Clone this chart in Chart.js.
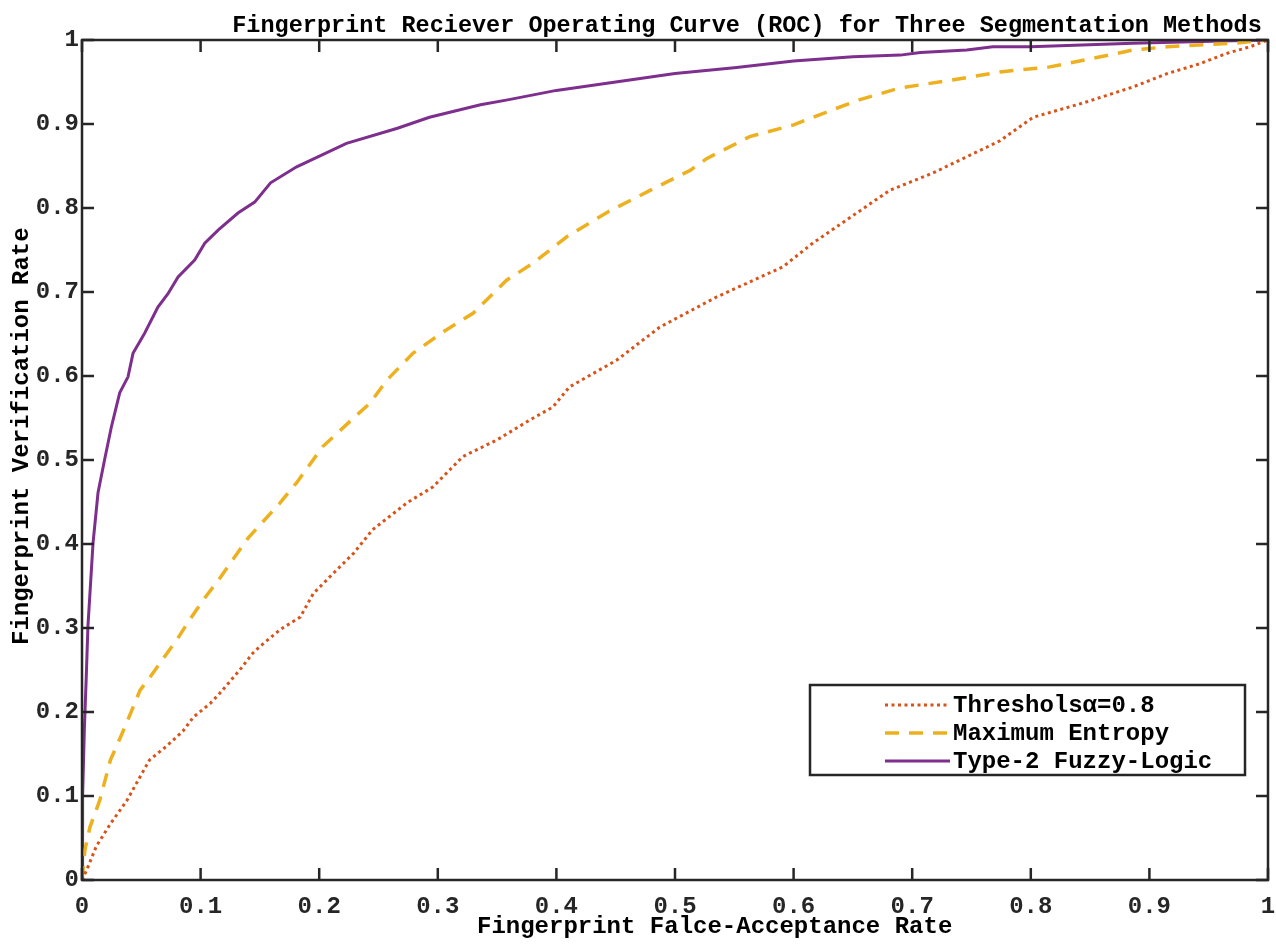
<!DOCTYPE html>
<html>
<head>
<meta charset="utf-8">
<title>Fingerprint ROC</title>
<script src="https://cdn.jsdelivr.net/npm/chart.js@4.4.0/dist/chart.umd.min.js"></script>
<style>
  html, body { margin: 0; padding: 0; background: #fff; }
  #wrap { width: 1276px; height: 945px; }
</style>
</head>
<body>
<div id="wrap"><canvas id="roc" width="1276" height="945"></canvas></div>
<script>
// === Data ===
const tickValues = [0, 0.1, 0.2, 0.3, 0.4, 0.5, 0.6, 0.7, 0.8, 0.9, 1];
const tickLabels = ["0", "0.1", "0.2", "0.3", "0.4", "0.5", "0.6", "0.7", "0.8", "0.9", "1"];

const seriesNames = ["Thresholsα=0.8", "Maximum Entropy", "Type-2 Fuzzy-Logic"];

// Threshold (dotted)
const thrFar = [0, 0.004, 0.012, 0.024, 0.038, 0.049, 0.057, 0.071, 0.085, 0.094, 0.108, 0.116, 0.133, 0.144, 0.15, 0.167, 0.184, 0.195, 0.209, 0.229, 0.245, 0.274, 0.296, 0.321, 0.35, 0.378, 0.397, 0.411, 0.451, 0.487, 0.535, 0.591, 0.616, 0.648, 0.681, 0.718, 0.746, 0.774, 0.802, 0.844, 0.886, 0.915, 0.943, 0.965, 0.985, 1];
const thrTvr = [0, 0.012, 0.04, 0.067, 0.095, 0.123, 0.143, 0.159, 0.177, 0.194, 0.21, 0.222, 0.25, 0.27, 0.278, 0.298, 0.313, 0.341, 0.361, 0.389, 0.417, 0.449, 0.468, 0.504, 0.524, 0.548, 0.563, 0.587, 0.619, 0.658, 0.694, 0.73, 0.758, 0.789, 0.821, 0.842, 0.861, 0.88, 0.908, 0.925, 0.944, 0.96, 0.972, 0.984, 0.992, 1];

// Maximum Entropy (dashed)
const entFar = [0, 0.0025, 0.0067, 0.015, 0.024, 0.034, 0.042, 0.049, 0.0556, 0.0697, 0.08, 0.089, 0.102, 0.115, 0.14, 0.167, 0.181, 0.203, 0.229, 0.243, 0.257, 0.279, 0.304, 0.33, 0.358, 0.38, 0.409, 0.443, 0.479, 0.513, 0.527, 0.563, 0.6, 0.633, 0.656, 0.69, 0.732, 0.774, 0.816, 0.852, 0.886, 0.915, 0.97, 1];
const entTvr = [0, 0.036, 0.063, 0.095, 0.143, 0.175, 0.202, 0.226, 0.238, 0.266, 0.286, 0.306, 0.333, 0.357, 0.407, 0.449, 0.473, 0.516, 0.55, 0.568, 0.595, 0.627, 0.652, 0.675, 0.714, 0.734, 0.766, 0.795, 0.821, 0.845, 0.859, 0.885, 0.899, 0.917, 0.929, 0.943, 0.952, 0.962, 0.968, 0.978, 0.988, 0.992, 0.996, 1];

// Type-2 Fuzzy-Logic (solid)
const fuzFar = [0, 0.0005, 0.002, 0.0036, 0.005, 0.0093, 0.0135, 0.019, 0.0247, 0.0318, 0.0388, 0.043, 0.0528, 0.064, 0.0725, 0.081, 0.095, 0.1035, 0.115, 0.1315, 0.1456, 0.159, 0.181, 0.223, 0.266, 0.293, 0.336, 0.36, 0.4, 0.45, 0.5, 0.55, 0.6, 0.65, 0.69, 0.707, 0.746, 0.768, 0.8, 0.886, 0.97, 1];
const fuzTvr = [0, 0.1, 0.18, 0.242, 0.302, 0.401, 0.461, 0.5, 0.539, 0.58, 0.599, 0.627, 0.651, 0.682, 0.698, 0.718, 0.738, 0.758, 0.774, 0.794, 0.807, 0.83, 0.849, 0.877, 0.895, 0.908, 0.923, 0.929, 0.94, 0.95, 0.96, 0.967, 0.975, 0.98, 0.982, 0.985, 0.988, 0.992, 0.992, 0.996, 0.999, 1];

const toPoints = (xs, ys) => xs.map((x, i) => ({ x, y: ys[i] }));

const FONT = "'Liberation Mono', 'DejaVu Sans Mono', monospace";
const AXIS_COLOR = "#262626";

// === Box, inward ticks, titles and legend (MATLAB look) ===
const matlabFrame = {
  id: "matlabFrame",
  afterDatasetsDraw(chart) {
    const { ctx, chartArea: a, scales } = chart;
    ctx.save();
    ctx.strokeStyle = AXIS_COLOR;
    ctx.lineWidth = 2.5;
    ctx.strokeRect(a.left, a.top, a.right - a.left, a.bottom - a.top);

    const len = 12;
    ctx.beginPath();
    tickValues.forEach((v) => {
      const px = scales.x.getPixelForValue(v);
      ctx.moveTo(px, a.bottom); ctx.lineTo(px, a.bottom - len);
      ctx.moveTo(px, a.top); ctx.lineTo(px, a.top + len);
      const py = scales.y.getPixelForValue(v);
      ctx.moveTo(a.left, py); ctx.lineTo(a.left + len, py);
      ctx.moveTo(a.right, py); ctx.lineTo(a.right - len, py);
    });
    ctx.stroke();
    ctx.restore();
  },
  afterDraw(chart) {
    const { ctx } = chart;
    ctx.save();
    ctx.fillStyle = "#000";
    ctx.textBaseline = "alphabetic";

    // title
    ctx.font = `bold 23.5px ${FONT}`;
    ctx.textAlign = "center";
    ctx.fillText("Fingerprint Reciever Operating Curve (ROC) for Three Segmentation Methods", 747, 32);

    // x label
    ctx.font = `bold 24px ${FONT}`;
    ctx.textAlign = "left";
    ctx.fillText("Fingerprint Falce-Acceptance Rate", 477, 933);

    // y label
    ctx.save();
    ctx.translate(28, 645);
    ctx.rotate(-Math.PI / 2);
    ctx.fillText("Fingerprint Verification Rate", 0, 0);
    ctx.restore();

    // legend
    const box = { x: 810, y: 685, w: 435, h: 90 };
    ctx.fillStyle = "#fff";
    ctx.fillRect(box.x, box.y, box.w, box.h);
    ctx.strokeStyle = AXIS_COLOR;
    ctx.lineWidth = 2.5;
    ctx.strokeRect(box.x, box.y, box.w, box.h);

    chart.data.datasets.forEach((ds, i) => {
      const rowY = box.y + 20 + i * 28;
      ctx.beginPath();
      ctx.strokeStyle = ds.borderColor;
      ctx.lineWidth = ds.borderWidth;
      ctx.setLineDash(ds.borderDash || []);
      ctx.moveTo(885, rowY);
      ctx.lineTo(950, rowY);
      ctx.stroke();
      ctx.setLineDash([]);
      ctx.fillStyle = "#000";
      ctx.textBaseline = "middle";
      ctx.fillText(ds.label, 953, rowY + 1);
    });
    ctx.restore();
  },
};

const ctx = document.getElementById("roc").getContext("2d");

new Chart(ctx, {
  type: "line",
  data: {
    datasets: [
      {
        label: seriesNames[0],
        data: toPoints(thrFar, thrTvr),
        borderColor: "#D95319",
        borderWidth: 3,
        borderDash: [3, 3.5],
        pointRadius: 0,
        tension: 0,
      },
      {
        label: seriesNames[1],
        data: toPoints(entFar, entTvr),
        borderColor: "#EDB120",
        borderWidth: 3.5,
        borderDash: [14, 10],
        pointRadius: 0,
        tension: 0,
      },
      {
        label: seriesNames[2],
        data: toPoints(fuzFar, fuzTvr),
        borderColor: "#7E2F8E",
        borderWidth: 3,
        pointRadius: 0,
        tension: 0,
      },
    ],
  },
  options: {
    responsive: false,
    animation: false,
    layout: { padding: { top: 40, right: 8, left: 0, bottom: 0 } },
    plugins: {
      legend: { display: false },
      title: { display: false },
      tooltip: { enabled: false },
    },
    scales: {
      x: {
        type: "linear",
        min: 0,
        max: 1,
        grid: { display: false, drawTicks: false },
        border: { display: false },
        afterBuildTicks: (scale) => { scale.ticks = tickValues.map((v) => ({ value: v })); },
        afterFit: (scale) => {
          scale.height = 65;
          scale.paddingLeft = 0;
          scale.paddingRight = 0;
        },
        ticks: {
          padding: 13,
          color: AXIS_COLOR,
          font: { family: FONT, size: 24, weight: "bold" },
          maxRotation: 0,
          callback: (v) => tickLabels[tickValues.indexOf(v)] ?? "",
        },
      },
      y: {
        type: "linear",
        min: 0,
        max: 1,
        grid: { display: false, drawTicks: false },
        border: { display: false },
        afterBuildTicks: (scale) => { scale.ticks = tickValues.map((v) => ({ value: v })); },
        afterFit: (scale) => {
          scale.width = 82;
          scale.paddingTop = 0;
          scale.paddingBottom = 0;
        },
        ticks: {
          padding: 3,
          color: AXIS_COLOR,
          font: { family: FONT, size: 24, weight: "bold" },
          callback: (v) => tickLabels[tickValues.indexOf(v)] ?? "",
        },
      },
    },
  },
  plugins: [matlabFrame],
});
</script>
</body>
</html>
